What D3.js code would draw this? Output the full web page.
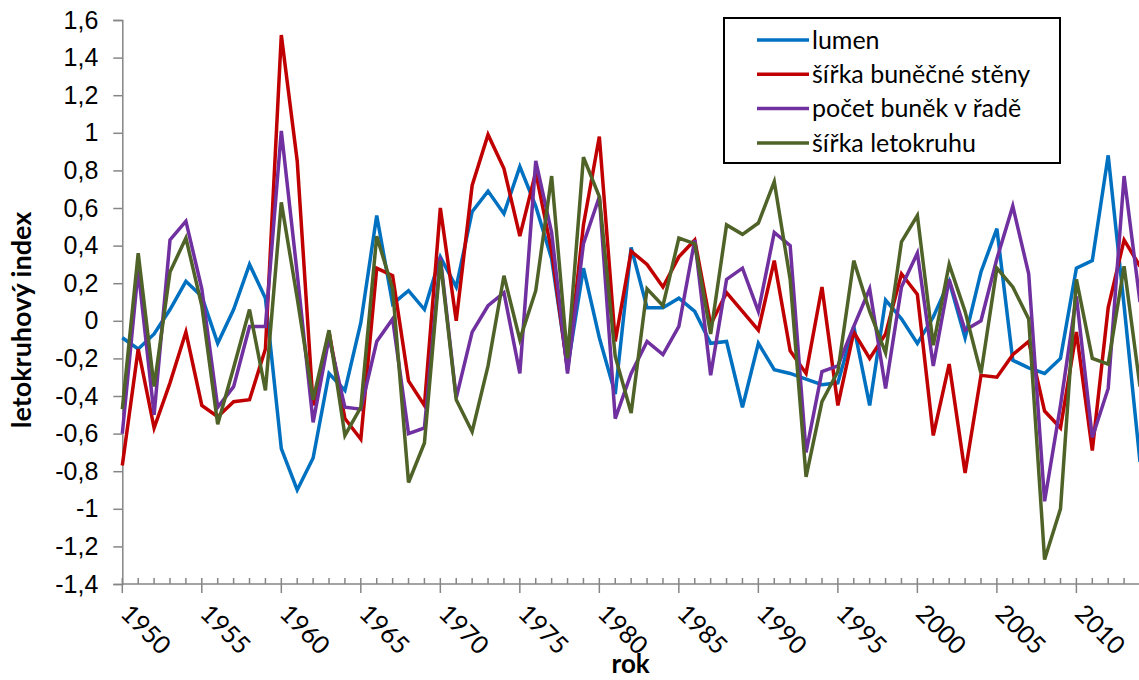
<!DOCTYPE html>
<html>
<head>
<meta charset="utf-8">
<script src="https://cdn.jsdelivr.net/npm/d3@7"></script>
<style>
  body { margin: 0; overflow: hidden; background: #fff; }
  svg { display: block; font-family: Lato, "Open Sans", sans-serif; }
</style>
</head>
<body>
<svg width="1139" height="680"></svg>
<script>
// roky 1950-2014
var years = d3.range(1950, 2015);

var lumen = [-0.09, -0.15, -0.07, 0.06, 0.21, 0.13, -0.12, 0.06, 0.30, 0.12,
	-0.68, -0.90, -0.73, -0.28, -0.37, -0.01, 0.56, 0.09, 0.16, 0.06,
	0.34, 0.18, 0.58, 0.69, 0.57, 0.82, 0.61, 0.33, -0.25, 0.28,
	-0.09, -0.39, 0.39, 0.07, 0.07, 0.12, 0.05, -0.12, -0.11, -0.46,
	-0.12, -0.26, -0.28, -0.31, -0.34, -0.33, -0.03, -0.45, 0.11, 0.01,
	-0.12, 0.02, 0.21, -0.09, 0.26, 0.49, -0.21, -0.25, -0.28, -0.20,
	0.28, 0.32, 0.88, 0.08, -0.75];

var sirkaSteny = [-0.77, -0.15, -0.57, -0.33, -0.06, -0.45, -0.51, -0.43, -0.42, -0.15,
	1.52, 0.85, -0.45, -0.06, -0.52, -0.63, 0.28, 0.24, -0.32, -0.45,
	0.60, 0.00, 0.72, 0.99, 0.81, 0.45, 0.79, 0.37, -0.26, 0.51,
	0.98, -0.11, 0.37, 0.30, 0.18, 0.34, 0.43, -0.02, 0.15, 0.05,
	-0.05, 0.32, -0.16, -0.28, 0.18, -0.45, -0.06, -0.20, -0.07, 0.25,
	0.14, -0.61, -0.23, -0.81, -0.29, -0.30, -0.18, -0.11, -0.48, -0.57,
	-0.06, -0.69, 0.07, 0.43, 0.29];

var pocetBunek = [-0.60, 0.27, -0.50, 0.43, 0.53, 0.17, -0.46, -0.35, -0.03, -0.03,
	1.01, 0.25, -0.54, -0.09, -0.46, -0.47, -0.11, 0.01, -0.60, -0.57,
	0.34, -0.41, -0.06, 0.08, 0.15, -0.28, 0.85, 0.47, -0.28, 0.41,
	0.66, -0.52, -0.28, -0.11, -0.18, -0.03, 0.43, -0.29, 0.22, 0.28,
	0.05, 0.47, 0.40, -0.70, -0.27, -0.24, -0.03, 0.17, -0.36, 0.18,
	0.36, -0.24, 0.22, -0.05, 0.00, 0.33, 0.61, 0.25, -0.96, -0.45,
	0.13, -0.62, -0.36, 0.77, 0.10];

var sirkaLetokruhu = [-0.47, 0.36, -0.35, 0.26, 0.44, 0.08, -0.55, -0.25, 0.06, -0.37,
	0.63, 0.12, -0.42, -0.05, -0.61, -0.46, 0.45, 0.17, -0.86, -0.65,
	0.32, -0.42, -0.59, -0.24, 0.24, -0.10, 0.16, 0.77, -0.20, 0.87,
	0.66, -0.19, -0.49, 0.17, 0.08, 0.44, 0.41, -0.07, 0.51, 0.46,
	0.52, 0.74, 0.22, -0.83, -0.43, -0.27, 0.32, 0.05, -0.17, 0.42,
	0.56, -0.13, 0.30, 0.05, -0.28, 0.28, 0.18, 0.01, -1.27, -1.00,
	0.22, -0.20, -0.23, 0.29, -0.35];

var seriesNames = ["lumen", "šířka buněčné stěny", "počet buněk v řadě", "šířka letokruhu"];
var seriesColors = ["#0070C0", "#C00000", "#7030A0", "#4F6228"];
var yTicks = d3.range(-1.4, 1.61, 0.2);
var xMajorTicks = d3.range(1950, 2015, 5);

var svg = d3.select("svg"),
	width = +svg.attr("width"),
	height = +svg.attr("height");

var x = d3.scaleLinear().domain([1950, 2014]).range([122.3, 1140]);
var y = d3.scaleLinear().domain([-1.4, 1.6]).range([584, 20]);

var axisColor = "#868686";
var fontSize = "25px";

// carka jako desetinny oddelovac
function fmt(v) {
	var r = Math.round(v * 10) / 10;
	if (Math.abs(r) < 1e-9) return "0";
	if (r === Math.round(r)) return String(r);
	return r.toFixed(1).replace(".", ",");
}

//------- osa y
var yAxis = svg.append("g")
	.attr("transform", "translate(" + x(1950) + ",0)")
	.call(d3.axisLeft(y).tickValues(yTicks).tickSize(9).tickPadding(15).tickFormat(fmt));
yAxis.select(".domain").attr("stroke", axisColor).attr("stroke-width", 1.5);
yAxis.selectAll(".tick line").attr("stroke", axisColor).attr("stroke-width", 1.5);
yAxis.selectAll(".tick text")
	.attr("fill", "#000")
	.style("font-size", fontSize);

//------- osa x (male ticky dovnitr, velke ven)
var xAxis = svg.append("g")
	.attr("transform", "translate(0," + y(-1.4) + ")");
xAxis.append("line")
	.attr("x1", x(1950)).attr("x2", width)
	.attr("stroke", axisColor).attr("stroke-width", 1.5);
xAxis.selectAll(".minor")
	.data(years)
	.enter().append("line")
	.attr("class", "minor")
	.attr("x1", function(d) { return x(d); })
	.attr("x2", function(d) { return x(d); })
	.attr("y1", -6).attr("y2", 0)
	.attr("stroke", axisColor).attr("stroke-width", 1.5);
xAxis.selectAll(".major")
	.data(xMajorTicks)
	.enter().append("line")
	.attr("class", "major")
	.attr("x1", function(d) { return x(d); })
	.attr("x2", function(d) { return x(d); })
	.attr("y1", 0).attr("y2", 9)
	.attr("stroke", axisColor).attr("stroke-width", 1.5);
xAxis.selectAll(".lbl")
	.data(xMajorTicks)
	.enter().append("text")
	.attr("class", "lbl")
	.attr("transform", function(d) { return "translate(" + (x(d) - 3) + ",31) rotate(45)"; })
	.attr("text-anchor", "start")
	.style("font-size", fontSize)
	.text(function(d) { return d; });

// popisky os
svg.append("text")
	.attr("x", (x(1950) + width) / 2)
	.attr("y", 673)
	.attr("text-anchor", "middle")
	.style("font-size", "26px")
	.style("font-weight", "bold")
	.text("rok");

svg.append("text")
	.attr("transform", "translate(31,320) rotate(-90)")
	.attr("text-anchor", "middle")
	.style("font-size", "27px")
	.style("font-weight", "bold")
	.text("letokruhový index");

//------- linie
var allSeries = [lumen, sirkaSteny, pocetBunek, sirkaLetokruhu];
var line = d3.line()
	.x(function(d, i) { return x(years[i]); })
	.y(function(d) { return y(d); });

svg.append("g")
	.attr("class", "lines")
	.selectAll("path")
	.data(allSeries)
	.enter().append("path")
	.attr("d", line)
	.attr("fill", "none")
	.attr("stroke", function(d, i) { return seriesColors[i]; })
	.attr("stroke-width", 3.5)
	.attr("stroke-linejoin", "miter")
	.attr("stroke-miterlimit", 4);

//------- legenda
var legend = svg.append("g").attr("class", "legend");
legend.append("rect")
	.attr("x", 724).attr("y", 18)
	.attr("width", 336).attr("height", 145)
	.attr("fill", "#fff")
	.attr("stroke", "#000")
	.attr("stroke-width", 2);

var item = legend.selectAll(".item")
	.data(seriesNames)
	.enter().append("g")
	.attr("class", "item")
	.attr("transform", function(d, i) { return "translate(0," + (40 + i * 34.3) + ")"; });
item.append("line")
	.attr("x1", 757).attr("x2", 809)
	.attr("stroke", function(d, i) { return seriesColors[i]; })
	.attr("stroke-width", 3.5);
item.append("text")
	.attr("x", 812)
	.attr("dy", "0.35em")
	.style("font-size", fontSize)
	.text(function(d) { return d; });
</script>
</body>
</html>
